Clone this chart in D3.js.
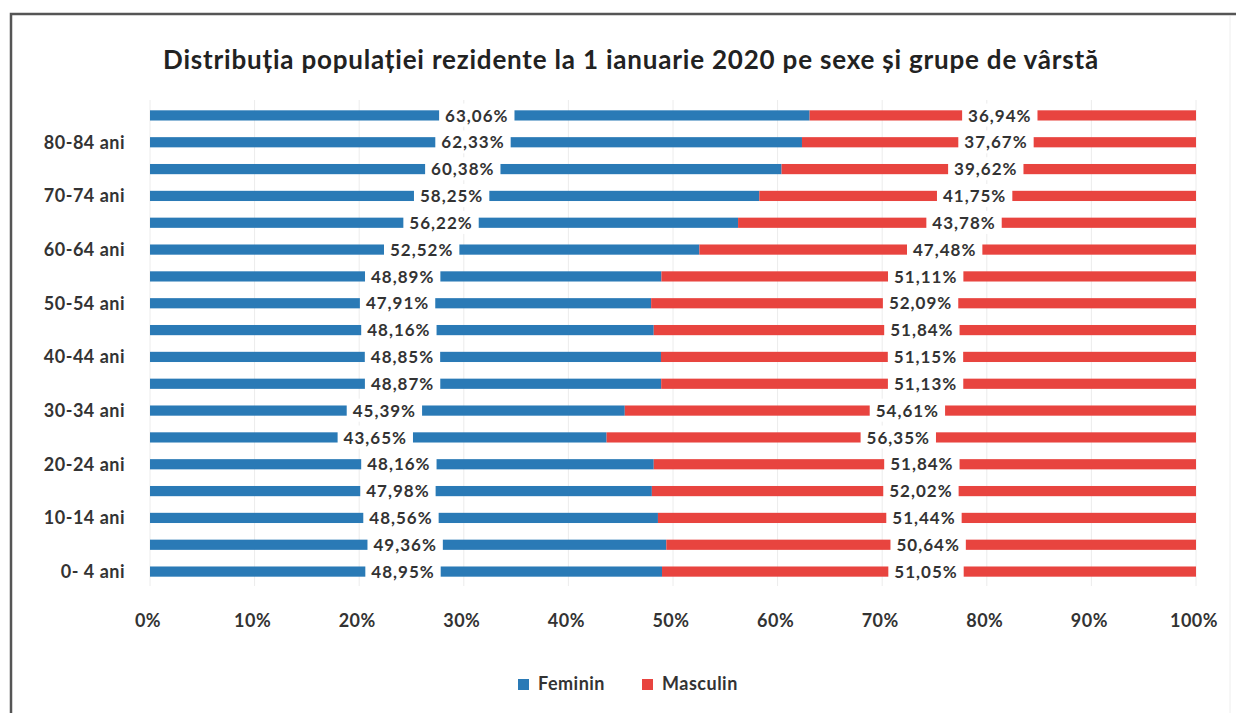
<!DOCTYPE html>
<html>
<head>
<meta charset="utf-8">
<script src="https://cdn.jsdelivr.net/npm/d3@7"></script>
<style>
  body { margin: 0; background: #fff; }
  svg { display: block; font-family: Lato, "Open Sans", sans-serif; }
  .bar-label { font-size: 17px; font-weight: bold; fill: #333; letter-spacing: 1px; }
  .tick-label { font-size: 18px; font-weight: bold; fill: #333; letter-spacing: 0.5px; }
</style>
</head>
<body>
<div id="chart"></div>
<script>
const width = 1236;
const height = 713;
const margin = { top: 103, right: 40, bottom: 128, left: 150 };

const ageGroups = [
  "0- 4 ani", "5- 9 ani", "10-14 ani", "15-19 ani", "20-24 ani", "25-29 ani",
  "30-34 ani", "35-39 ani", "40-44 ani", "45-49 ani", "50-54 ani", "55-59 ani",
  "60-64 ani", "65-69 ani", "70-74 ani", "75-79 ani", "80-84 ani", "85 ani si peste"
];
const feminin = [48.95, 49.36, 48.56, 47.98, 48.16, 43.65, 45.39, 48.87, 48.85,
  48.16, 47.91, 48.89, 52.52, 56.22, 58.25, 60.38, 62.33, 63.06];
const masculin = [51.05, 50.64, 51.44, 52.02, 51.84, 56.35, 54.61, 51.13, 51.15,
  51.84, 52.09, 51.11, 47.48, 43.78, 41.75, 39.62, 37.67, 36.94];
const xTicks = [0, 10, 20, 30, 40, 50, 60, 70, 80, 90, 100];

const colors = { feminin: "#2a7ab6", masculin: "#e8443f" };

const svg = d3.select("#chart")
  .append("svg")
  .attr("width", width)
  .attr("height", height);

// frame
svg.append("path")
  .attr("d", `M11,${height} V14 H${width}`)
  .attr("fill", "none")
  .attr("stroke", "#555")
  .attr("stroke-width", 2.5);
svg.append("line")
  .attr("x1", 1230).attr("x2", 1230)
  .attr("y1", 16).attr("y2", height)
  .attr("stroke", "#eee");

svg.append("text")
  .attr("x", 631)
  .attr("y", 69)
  .attr("text-anchor", "middle")
  .style("font-size", "26px")
  .style("font-weight", "bold")
  .style("letter-spacing", "0.8px")
  .style("fill", "#222")
  .text("Distribuția populației rezidente la 1 ianuarie 2020 pe sexe și grupe de vârstă");

const x = d3.scaleLinear()
  .domain([0, 100])
  .range([margin.left, 1196]);

const y = d3.scaleBand()
  .domain(ageGroups.slice().reverse())
  .range([102, 585])
  .paddingInner(0.62)
  .paddingOuter(0.31);

// gridlines
svg.append("g")
  .selectAll("line")
  .data(xTicks)
  .join("line")
  .attr("x1", d => x(d))
  .attr("x2", d => x(d))
  .attr("y1", 100)
  .attr("y2", 586)
  .attr("stroke", "#ececec");

const rows = ageGroups.map((age, i) => ({ age, f: feminin[i], m: masculin[i] }));

const rowG = svg.append("g")
  .selectAll("g")
  .data(rows)
  .join("g")
  .attr("transform", d => `translate(0, ${y(d.age)})`);

rowG.append("rect")
  .attr("x", x(0))
  .attr("width", d => x(d.f) - x(0))
  .attr("height", y.bandwidth())
  .attr("fill", colors.feminin);

rowG.append("rect")
  .attr("x", d => x(d.f))
  .attr("width", d => x(100) - x(d.f))
  .attr("height", y.bandwidth())
  .attr("fill", colors.masculin);

const fmt = v => v.toFixed(2).replace(".", ",") + "%";

function addLabel(g, cx, txt) {
  const bg = g.append("rect").attr("fill", "#fff");
  const t = g.append("text")
    .attr("class", "bar-label")
    .attr("x", cx)
    .attr("y", y.bandwidth() / 2)
    .attr("dy", "0.36em")
    .attr("text-anchor", "middle")
    .text(txt);
  const b = t.node().getBBox();
  bg.attr("x", b.x - 6)
    .attr("y", b.y - 1)
    .attr("width", b.width + 12)
    .attr("height", b.height + 2);
}

rowG.each(function(d) {
  const g = d3.select(this);
  addLabel(g, x(d.f / 2) - 3, fmt(d.f));
  addLabel(g, x((d.f + 100) / 2) - 3, fmt(d.m));
});

// y labels, every other group
svg.append("g")
  .selectAll("text")
  .data(ageGroups.filter((d, i) => i % 2 === 0))
  .join("text")
  .attr("class", "tick-label")
  .attr("x", 125)
  .attr("y", d => y(d) + y.bandwidth() / 2)
  .attr("dy", "0.36em")
  .attr("text-anchor", "end")
  .text(d => d);

// x tick labels
svg.append("g")
  .selectAll("text")
  .data(xTicks)
  .join("text")
  .attr("class", "tick-label")
  .attr("x", d => x(d) - 2)
  .attr("y", 627)
  .attr("text-anchor", "middle")
  .text(d => d + "%");

// legend
const legendItems = [
  { name: "Feminin", color: colors.feminin, x: 518 },
  { name: "Masculin", color: colors.masculin, x: 642 }
];
const legend = svg.append("g")
  .selectAll("g")
  .data(legendItems)
  .join("g")
  .attr("transform", d => `translate(${d.x}, 679)`);

legend.append("rect")
  .attr("width", 11)
  .attr("height", 11)
  .attr("fill", d => d.color);

legend.append("text")
  .attr("class", "tick-label")
  .attr("x", 20)
  .attr("y", 11)
  .text(d => d.name);
</script>
</body>
</html>
